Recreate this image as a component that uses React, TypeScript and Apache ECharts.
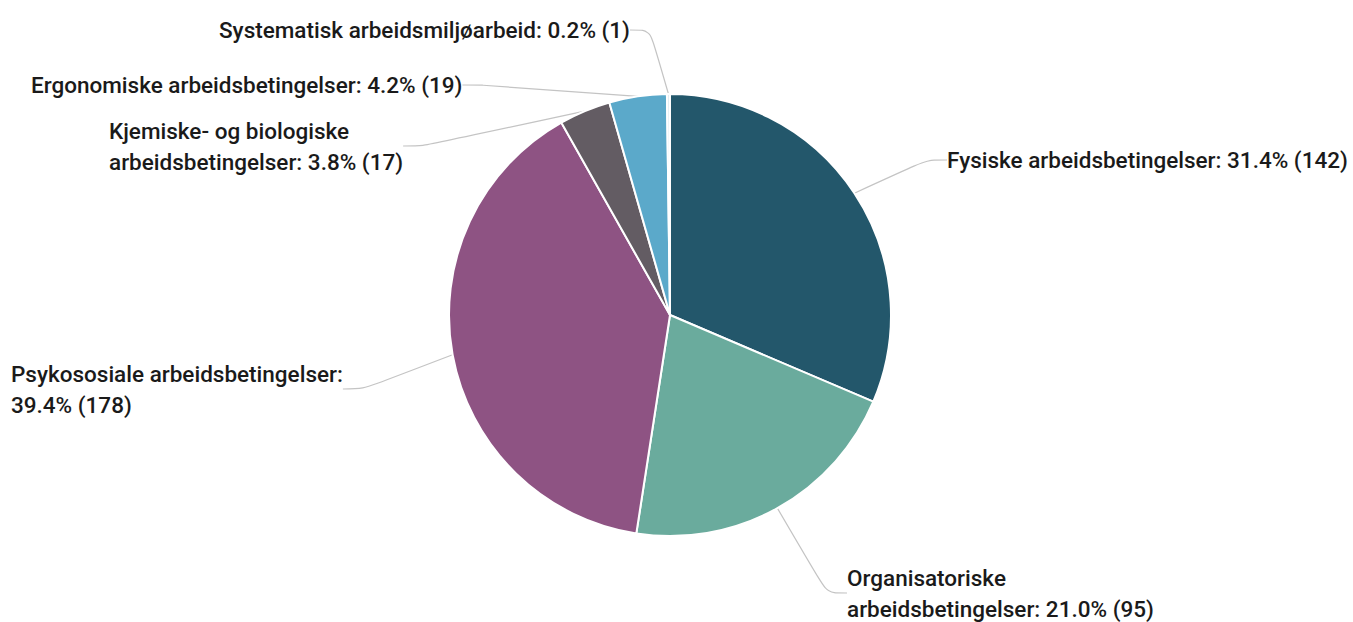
import React, { useEffect, useRef } from "react";
import * as echarts from "echarts";

const categories = [
  "Fysiske arbeidsbetingelser",
  "Organisatoriske arbeidsbetingelser",
  "Psykososiale arbeidsbetingelser",
  "Kjemiske- og biologiske arbeidsbetingelser",
  "Ergonomiske arbeidsbetingelser",
  "Systematisk arbeidsmiljøarbeid",
];
const values = [142, 95, 178, 17, 19, 1];
const labelTexts = [
  "Fysiske arbeidsbetingelser: 31.4% (142)",
  "Organisatoriske\narbeidsbetingelser: 21.0% (95)",
  "Psykososiale arbeidsbetingelser:\n39.4% (178)",
  "Kjemiske- og biologiske\narbeidsbetingelser: 3.8% (17)",
  "Ergonomiske arbeidsbetingelser: 4.2% (19)",
  "Systematisk arbeidsmiljøarbeid: 0.2% (1)",
];
const colors = ["#23576b", "#6aab9d", "#8e5383", "#635c63", "#5ba9ca", "#e4eef3"];

// label anchor (left x, vertical centre y) per slice
const labelPos = [
  [947, 160],
  [847, 593],
  [11, 389],
  [109, 146],
  [31, 85],
  [219, 30],
];

export default function App() {
  const ref = useRef<HTMLDivElement>(null);
  useEffect(() => {
    if (!ref.current) return;
    const chart = echarts.init(ref.current, undefined, { renderer: "svg" });
    chart.setOption({
      animation: false,
      backgroundColor: "#ffffff",
      series: [
        {
          type: "pie",
          center: [670, 315],
          radius: 221,
          startAngle: 90,
          clockwise: true,
          avoidLabelOverlap: false,
          data: categories.map((c, i) => ({
            name: c,
            value: values[i],
            itemStyle: { color: colors[i] },
            label: { formatter: labelTexts[i] },
          })),
          itemStyle: { borderColor: "#ffffff", borderWidth: 2 },
          label: {
            show: true,
            color: "#1a1a1a",
            fontFamily: "Roboto",
            fontSize: 22.5,
            fontWeight: 500,
            lineHeight: 31,
          },
          labelLine: {
            show: true,
            length: 20,
            length2: 20,
            smooth: 0.3,
            lineStyle: { color: "#c4c4c4", width: 1.2 },
          },
          labelLayout: (params: any) => {
            const p = labelPos[params.dataIndex];
            return {
              x: p[0],
              y: p[1],
              align: "left",
              verticalAlign: "middle",
            };
          },
        },
      ],
    });
    return () => chart.dispose();
  }, []);
  return (
    <div
      ref={ref}
      style={{ position: "fixed", left: 0, top: 0, width: 1353, height: 622 }}
    />
  );
}
